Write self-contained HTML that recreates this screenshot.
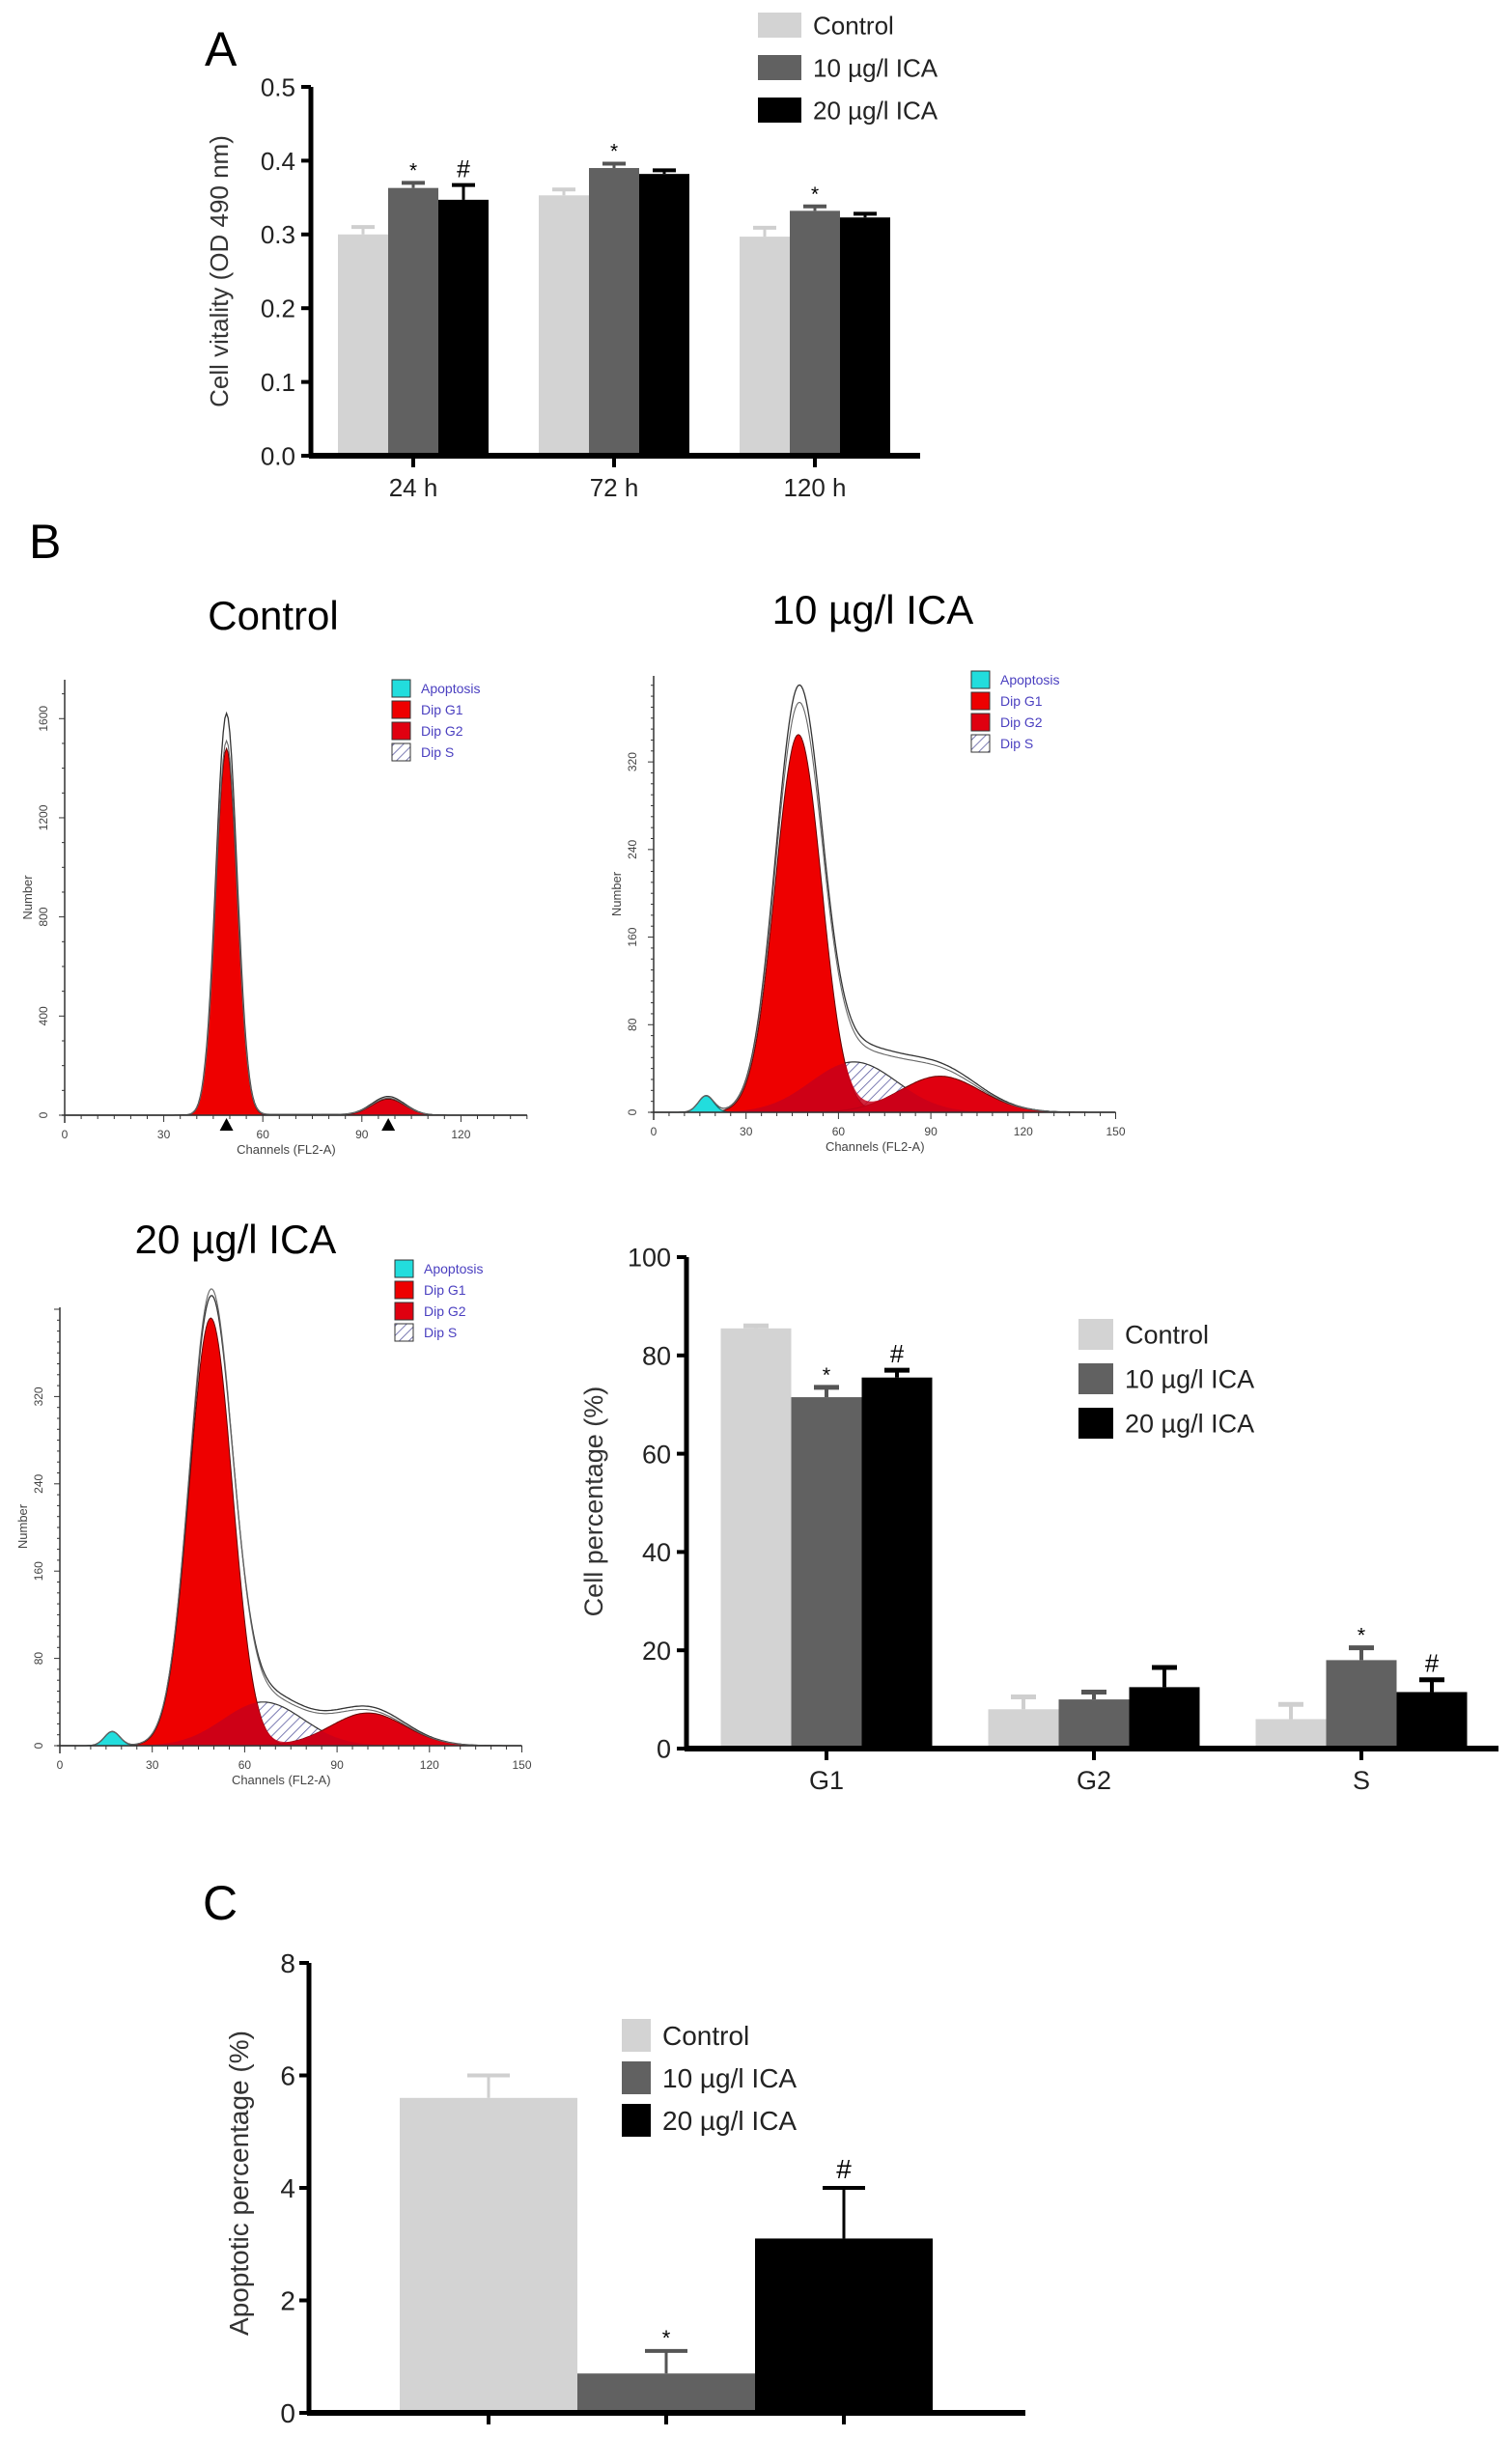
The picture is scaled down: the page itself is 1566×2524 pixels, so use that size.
<!DOCTYPE html>
<html><head><meta charset="utf-8">
<style>
html,body{margin:0;padding:0;background:#fff;}
svg{display:block;font-family:"Liberation Sans",Arial,sans-serif;}
</style></head>
<body>
<svg id="fig" width="1566" height="2524" viewBox="0 0 1566 2524" xmlns="http://www.w3.org/2000/svg">
<defs>
<pattern id="hatch" width="7" height="7" patternUnits="userSpaceOnUse" patternTransform="rotate(45)">
<rect width="7" height="7" fill="#fff"/><line x1="0" y1="0" x2="0" y2="7" stroke="#5a5aa0" stroke-width="1.6"/>
</pattern>
</defs>
<text x="212" y="68" font-size="50">A</text>
<text x="30" y="578" font-size="50">B</text>
<text x="210" y="1988" font-size="50">C</text>
<text x="283" y="652" font-size="42" text-anchor="middle">Control</text>
<text x="904" y="646" font-size="42" text-anchor="middle">10 µg/l ICA</text>
<text x="244" y="1298" font-size="42" text-anchor="middle">20 µg/l ICA</text>
<g id="gA"></g>
<g id="gB"></g>
<g id="gC"></g>
<g id="h1"></g>
<g id="h2"></g>
<g id="h3"></g>
</svg>
<script>
// ---- Chart A data
const aCategories = ["24 h","72 h","120 h"];
const aControl = [0.300,0.353,0.297];
const aControlErr = [0.010,0.008,0.012];
const aIca10 = [0.363,0.390,0.332];
const aIca10Err = [0.007,0.006,0.006];
const aIca20 = [0.347,0.382,0.323];
const aIca20Err = [0.020,0.005,0.005];
const aTicks = ["0.0","0.1","0.2","0.3","0.4","0.5"];
const aMarks10 = ["*","*","*"];
const aMarks20 = ["#","",""];
// ---- Chart B data
const bCategories = ["G1","G2","S"];
const bControl = [85.5,8,6];
const bControlErr = [0.5,2.5,3];
const bIca10 = [71.5,10,18];
const bIca10Err = [2,1.5,2.5];
const bIca20 = [75.5,12.5,11.5];
const bIca20Err = [1.5,4,2.5];
const bTicks = ["0","20","40","60","80","100"];
const bMarks10 = ["*","","*"];
const bMarks20 = ["#","","#"];
// ---- Chart C data
const cCategories = ["Control","10 µg/l ICA","20 µg/l ICA"];
const cValues = [5.6,0.7,3.1];
const cErr = [0.4,0.4,0.9];
const cTicks = ["0","2","4","6","8"];
const cMarks = ["","*","#"];
// ---- Histogram fit components [mu, height, sd]
const hControlG1 = [49,1480,3.2];
const hControlG2 = [98,65,5];
const hControlS = [70,3,15];
const hControlPeakTotal = [49,1620];
const hIca10G1 = [47,345,7.5];
const hIca10G2 = [93,33,13];
const hIca10S = [65,46,14];
const hIca10Apo = [17,15,2.5];
const hIca20G1 = [49,392,7];
const hIca20G2 = [100,30,12];
const hIca20S = [66,40,13];
const hIca20Apo = [17,13,2.5];

const NS="http://www.w3.org/2000/svg";
function mk(parent,tag,attrs,text){const e=document.createElementNS(NS,tag);for(const k in attrs)e.setAttribute(k,attrs[k]);if(text!==undefined)e.textContent=text;parent.appendChild(e);return e;}
const colors=["#d3d3d3","#616161","#000000"];
const errColors=["#cfcfcf","#555","#000"];

function barChart(g,o){
  const y=v=>o.y0-(v-o.min)/(o.max-o.min)*(o.y0-o.yTop);
  let ax=mk(g,"line",{x1:o.x0,y1:o.yTop,x2:o.x0,y2:o.y0+2,stroke:"#000","stroke-width":5});
  
  
  o.ticks.forEach((t,i)=>{const v=o.min+i*(o.max-o.min)/(o.ticks.length-1);const yy=y(v);
    mk(g,"line",{x1:o.x0-10,y1:yy,x2:o.x0,y2:yy,stroke:"#000","stroke-width":4});
    const tl=mk(g,"text",{x:o.x0-16,y:yy+o.fs*0.36,"font-size":o.fs,"text-anchor":"end",fill:"#222"},t);
    
    });
  o.series.forEach((s,si)=>{
    o.cats.forEach((c,ci)=>{
      const cx=o.x0+o.off+ci*o.gap;
      const x=cx-o.bw*1.5+si*o.bw;
      const v=s.vals[ci], e=s.err[ci];
      const r=mk(g,"rect",{x:x,y:y(v),width:o.bw,height:o.y0-y(v),fill:colors[si]});
      
      
      const mx=x+o.bw/2;
      mk(g,"line",{x1:mx,y1:y(v),x2:mx,y2:y(v+e),stroke:errColors[si],"stroke-width":o.ew});
      mk(g,"line",{x1:mx-o.capw/2,y1:y(v+e),x2:mx+o.capw/2,y2:y(v+e),stroke:errColors[si],"stroke-width":o.ew+1});
      const m=s.marks[ci];
      if(m){const t=mk(g,"text",{x:mx,y:y(v+e)-(m=="*"?6:8),"font-size":m=="*"?o.fs*0.8:o.fs*0.95,"text-anchor":"middle"},m);
        
        }
    });
  });
  let xa=mk(g,"line",{x1:o.x0-2,y1:o.y0,x2:o.xEnd,y2:o.y0,stroke:"#000","stroke-width":6});
  
  
  o.cats.forEach((c,ci)=>{const cx=o.x0+o.off+ci*o.gap;
    mk(g,"line",{x1:cx,y1:o.y0,x2:cx,y2:o.y0+12,stroke:"#000","stroke-width":4});
    if(o.showCats){const t=mk(g,"text",{x:cx,y:o.y0+o.catDy,"font-size":o.fs,"text-anchor":"middle",fill:"#222"},c);
      
      }});
  const yl=mk(g,"text",{x:0,y:0,"font-size":o.fs,"text-anchor":"middle",fill:"#333",transform:`translate(${o.ylx},${o.yly}) rotate(-90)`},o.ylabel);
  
  
  ["Control","10 µg/l ICA","20 µg/l ICA"].forEach((n,i)=>{
    const yy=o.legY+i*o.legGap;
    const r=mk(g,"rect",{x:o.legX,y:yy-o.legS/2,width:o.legW,height:o.legS,fill:colors[i]});
    
    
    const t=mk(g,"text",{x:o.legX+o.legW+12,y:yy+o.legFs*0.36,"font-size":o.legFs,fill:"#222"},n);
    
    
  });
}
barChart(document.getElementById("gA"),{cats:aCategories,x0:322,xEnd:953,yTop:90,y0:472,min:0,max:0.5,ticks:aTicks,
  off:428-322,gap:208,bw:52,fs:26,ew:3,capw:24,catDy:42,showCats:true,ylabel:"Cell vitality (OD 490 nm)",ylx:236,yly:281,
  legX:785,legW:45,legS:26,legY:26,legGap:44,legFs:26,
  series:[{key:"control",vals:aControl,err:aControlErr,marks:["","",""]},{key:"ica10",vals:aIca10,err:aIca10Err,marks:aMarks10},{key:"ica20",vals:aIca20,err:aIca20Err,marks:aMarks20}]});
barChart(document.getElementById("gB"),{cats:bCategories,x0:711,xEnd:1552,yTop:1302,y0:1811,min:0,max:100,ticks:bTicks,
  off:856-711,gap:277,bw:73,fs:27,ew:4,capw:26,catDy:42,showCats:true,ylabel:"Cell percentage (%)",ylx:624,yly:1555,
  legX:1117,legW:36,legS:32,legY:1382,legGap:46,legFs:27,
  series:[{key:"control",vals:bControl,err:bControlErr,marks:["","",""]},{key:"ica10",vals:bIca10,err:bIca10Err,marks:bMarks10},{key:"ica20",vals:bIca20,err:bIca20Err,marks:bMarks20}]});

(function(){
  const g=document.getElementById("gC");
  const x0=320,y0=2499,yTop=2033,xEnd=1062,max=8;
  const y=v=>y0-v/max*(y0-yTop);
  mk(g,"line",{x1:x0,y1:yTop,x2:x0,y2:y0,stroke:"#000","stroke-width":5});
  cTicks.forEach((t,i)=>{const yy=y(i*2);mk(g,"line",{x1:x0-10,y1:yy,x2:x0,y2:yy,stroke:"#000","stroke-width":4});
    const tl=mk(g,"text",{x:x0-14,y:yy+10,"font-size":28,"text-anchor":"end",fill:"#222"},t);
    
    });
  const bw=184;
  cValues.forEach((v,i)=>{const x=414+i*bw;
    const r=mk(g,"rect",{x:x,y:y(v),width:bw,height:y0-y(v),fill:colors[i]});
    
    
    const mx=x+bw/2;
    mk(g,"line",{x1:mx,y1:y(v),x2:mx,y2:y(v+cErr[i]),stroke:errColors[i],"stroke-width":3});
    mk(g,"line",{x1:mx-22,y1:y(v+cErr[i]),x2:mx+22,y2:y(v+cErr[i]),stroke:errColors[i],"stroke-width":4});
    if(cMarks[i]){const t=mk(g,"text",{x:mx,y:y(v+cErr[i])-(cMarks[i]=="*"?6:10),"font-size":cMarks[i]=="*"?22:28,"text-anchor":"middle"},cMarks[i]);
      
      }
    mk(g,"line",{x1:mx,y1:y0,x2:mx,y2:y0+12,stroke:"#000","stroke-width":4});
  });
  mk(g,"line",{x1:x0-2,y1:y0,x2:xEnd,y2:y0,stroke:"#000","stroke-width":6});
  const yl=mk(g,"text",{x:0,y:0,"font-size":28,"text-anchor":"middle",fill:"#333",transform:"translate(257,2261) rotate(-90)"},"Apoptotic percentage (%)");
  
  
  cCategories.forEach((n,i)=>{const yy=2108+i*44;
    const r=mk(g,"rect",{x:644,y:yy-17,width:30,height:34,fill:colors[i]});
    
    
    const t=mk(g,"text",{x:686,y:yy+10,"font-size":28,fill:"#222"},n);
    
    });
})();

function gauss(c,p){return p?p[1]*Math.exp(-0.5*Math.pow((c-p[0])/p[2],2)):0;}
function hist(g,o){
  const X=c=>o.x0+c*o.pxc, Y=v=>o.y0-v*o.pxn;
  const chs=[];for(let c=0;c<=o.maxCh;c+=0.5)chs.push(c);
  function area(fn){let d=`M${X(chs[0])},${o.y0}`;chs.forEach(c=>d+=` L${X(c).toFixed(1)},${Y(fn(c)).toFixed(1)}`);d+=` L${X(chs[chs.length-1])},${o.y0} Z`;return d;}
  function line(fn){let d="";chs.forEach((c,i)=>d+=(i?" L":"M")+X(c).toFixed(1)+","+Y(fn(c)).toFixed(1));return d;}
  const s=c=>gauss(c,o.S);
  let p=mk(g,"path",{d:area(s),fill:"url(#hatch)",stroke:"#333","stroke-width":1.2});
  
  p=mk(g,"path",{d:area(c=>gauss(c,o.G1)),fill:"#ee0000",stroke:"#600","stroke-width":1});
  
  p=mk(g,"path",{d:area(c=>gauss(c,o.G2)),fill:"#e00010",stroke:"#600","stroke-width":1});
  
  p=mk(g,"path",{d:area(c=>Math.min(s(c),gauss(c,o.G1)+gauss(c,o.G2))),fill:"#c8001a","fill-opacity":0.85});
  
  if(o.Apo){p=mk(g,"path",{d:area(c=>gauss(c,o.Apo)),fill:"#22dddd",stroke:"#066","stroke-width":1});
    }
  const tot=c=>gauss(c,o.G1)*(o.g1scale||1.06)+gauss(c,o.G2)*1.15+s(c)*1.2+gauss(c,o.Apo);
  p=mk(g,"path",{d:line(tot),fill:"none",stroke:"#333","stroke-width":1.3});
  
  mk(g,"path",{d:line(c=>gauss(c,o.G1)*1.02+gauss(c,o.G2)*1.05+s(c)*1.1+gauss(c,o.Apo)),fill:"none",stroke:"#666","stroke-width":1.1});
  mk(g,"line",{x1:o.x0,y1:o.yTop,x2:o.x0,y2:o.y0+8,stroke:"#333","stroke-width":1.5});
  mk(g,"line",{x1:o.x0-3,y1:o.y0,x2:X(o.maxCh),y2:o.y0,stroke:"#333","stroke-width":1.5});
  for(let c=0;c<=o.maxCh;c+=5)mk(g,"line",{x1:X(c),y1:o.y0,x2:X(c),y2:o.y0+(c%30?4:7),stroke:"#333","stroke-width":1});
  for(let v=0;Y(v)>=o.yTop;v+=o.minorY)mk(g,"line",{x1:o.x0-(v%o.majY?3:6),y1:Y(v),x2:o.x0,y2:Y(v),stroke:"#333","stroke-width":1});
  for(let c=0;c<=o.maxCh;c+=30){const t=mk(g,"text",{x:X(c),y:o.y0+24,"font-size":12,"text-anchor":"middle",fill:"#444"},String(c));
    }
  for(let v=0;Y(v)>=o.yTop+5;v+=o.majY){const t=mk(g,"text",{x:0,y:0,"font-size":12,"text-anchor":"middle",fill:"#444",transform:`translate(${o.x0-18},${Y(v)}) rotate(-90)`},String(v));
    }
  let t=mk(g,"text",{x:(o.x0+X(o.maxCh))/2-10,y:o.y0+40,"font-size":13,"text-anchor":"middle",fill:"#444"},"Channels (FL2-A)");
  
  t=mk(g,"text",{x:0,y:0,"font-size":13,"text-anchor":"middle",fill:"#444",transform:`translate(${o.x0-34},${(o.yTop+o.y0)/2}) rotate(-90)`},"Number");
  
  const leg=[["Apoptosis","#22dddd"],["Dip G1","#ee0000"],["Dip G2","#e00010"],["Dip S","url(#hatch)"]];
  leg.forEach((l,i)=>{const yy=o.legY+i*22;
    const r=mk(g,"rect",{x:o.legX,y:yy-9,width:19,height:18,fill:l[1],stroke:"#333","stroke-width":1});
    
    const tt=mk(g,"text",{x:o.legX+30,y:yy+5,"font-size":14,fill:"#4a3fc0"},l[0]);
    });
  if(o.markers)o.markers.forEach(c=>mk(g,"path",{d:`M${X(c)-7},${o.y0+16} L${X(c)+7},${o.y0+16} L${X(c)},${o.y0+3} Z`,fill:"#000"}));
}
hist(document.getElementById("h1"),{x0:67,y0:1155,yTop:704,pxc:3.42,pxn:0.2567,maxCh:140,G1:hControlG1,G2:hControlG2,S:hControlS,g1scale:hControlPeakTotal[1]/hControlG1[1],minorY:100,majY:400,legX:406,legY:713,markers:[hControlG1[0],hControlG2[0]]});
hist(document.getElementById("h2"),{x0:677,y0:1152,yTop:700,pxc:3.19,pxn:1.134,maxCh:150,G1:hIca10G1,G2:hIca10G2,S:hIca10S,Apo:hIca10Apo,minorY:10,majY:80,legX:1006,legY:704});
hist(document.getElementById("h3"),{x0:62,y0:1808,yTop:1354,pxc:3.19,pxn:1.13,maxCh:150,G1:hIca20G1,G2:hIca20G2,S:hIca20S,Apo:hIca20Apo,g1scale:1.0,minorY:10,majY:80,legX:409,legY:1314});
</script>
</body></html>
